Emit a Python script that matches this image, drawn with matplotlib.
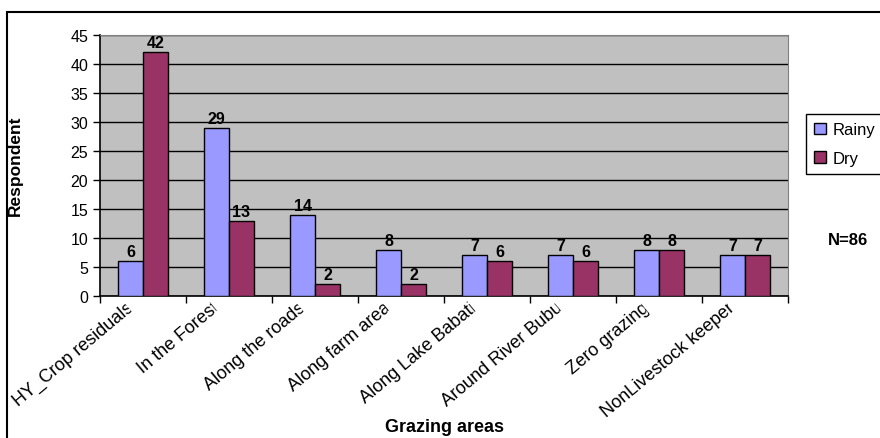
import numpy as np
import matplotlib.pyplot as plt
from matplotlib.patches import Polygon, Rectangle
from matplotlib.transforms import Affine2D, IdentityTransform, Bbox

plt.rcParams['font.family'] = ['Liberation Sans', 'DejaVu Sans']

areas = ["HY_Crop residuals", "In the Forest", "Along the roads", "Along farm area",
         "Along Lake Babati", "Around River Bubu", "Zero grazing", "NonLivestock keeper"]
rainy = [6, 29, 14, 8, 7, 7, 8, 7]
dry = [42, 13, 2, 2, 6, 6, 8, 7]

fig = plt.figure(figsize=(8.8, 4.39), dpi=100)
fig.patch.set_facecolor('white')
ax = fig.add_axes([100 / 880, 1 - 297 / 439, 688 / 880, 261 / 439])

# chart frame
fig.patches.append(Rectangle((7 / 880, -0.1), 1.2, 1 - 13 / 439 + 0.1, transform=fig.transFigure,
                             fill=False, edgecolor='black', linewidth=1.5, zorder=20))

w = 0.29
centers = [i + 0.5 for i in range(len(areas))]
ax.set_facecolor('#C0C0C0')
b1 = ax.bar([c - w / 2 for c in centers], rainy, w, color='#9999FF', edgecolor='black', linewidth=1, label='Rainy', zorder=3)
b2 = ax.bar([c + w / 2 for c in centers], dry, w, color='#993366', edgecolor='black', linewidth=1, label='Dry', zorder=3)

for bars, vals in ((b1, rainy), (b2, dry)):
    for b, v in zip(bars, vals):
        ax.annotate(str(v), (b.get_x() + b.get_width() / 2, v), xytext=(0, 2), textcoords='offset pixels',
                    ha='center', va='bottom', fontsize=11.5, fontweight='bold', zorder=4)

ax.set_xlim(0, len(areas))
ax.set_ylim(0, 45)
ax.set_yticks(range(0, 46, 5))
ax.yaxis.grid(True, color='black', linewidth=1)
ax.set_axisbelow(True)
ax.set_xticks(range(len(areas) + 1))
ax.set_xticklabels([])
ax.tick_params(axis='both', direction='out', length=5, width=1, colors='black', labelsize=11.5)
for s in ('top', 'right'):
    ax.spines[s].set_color('#808080')
for s in ('left', 'bottom'):
    ax.spines[s].set_linewidth(1.2)

# rotated category labels; the end next to the axis is cut off square to the text
fig.canvas.draw()
rot = 40
d = np.array([np.cos(np.radians(rot)), np.sin(np.radians(rot))])
n = np.array([-d[1], d[0]])
for c, name in zip(centers, areas):
    trans = ax.transData + Affine2D().translate(-12, -9)
    t = ax.text(c, 0, name, transform=trans, rotation=rot, rotation_mode='anchor',
                ha='right', va='center', fontsize=13, zorder=3)
    t.set_clip_box(Bbox([[8, -1000], [2000, 2000]]))
    t.set_clip_on(True)

    cx, ay = ax.transData.transform((c, 0))
    p0 = np.array([cx - 18, ay - 7.5])
    top = ay - 2
    bot = ay - 40
    a = p0 + n * (top - p0[1]) / n[1]
    e = p0 + n * (bot - p0[1]) / n[1]
    mask = Polygon([a, (a[0] + 22, top), e + 16 * d, e], closed=True,
                   transform=IdentityTransform(), facecolor='white', edgecolor='none',
                   zorder=5, clip_on=False)
    ax.add_patch(mask)

fig.text(15 / 880, 1 - 166 / 439, 'Respondent', rotation=90, ha='center', va='center', fontsize=12.5, fontweight='bold')
fig.text(444 / 880, 1 - 428 / 439, 'Grazing areas', ha='center', va='center', fontsize=13, fontweight='bold')

leg = fig.legend(handles=[b1, b2], loc='upper left', bbox_to_anchor=(806 / 880, 1 - 115 / 439),
                 fontsize=12, frameon=True, fancybox=False, edgecolor='black', framealpha=1,
                 handlelength=0.7, handleheight=0.7, handletextpad=0.4, borderpad=0.5,
                 labelspacing=0.8, borderaxespad=0)
leg.get_frame().set_linewidth(1)

fig.text(848 / 880, 1 - 241 / 439, 'N=86', ha='center', va='center', fontsize=12, fontweight='bold')

fig.savefig('out.png', dpi=100)
